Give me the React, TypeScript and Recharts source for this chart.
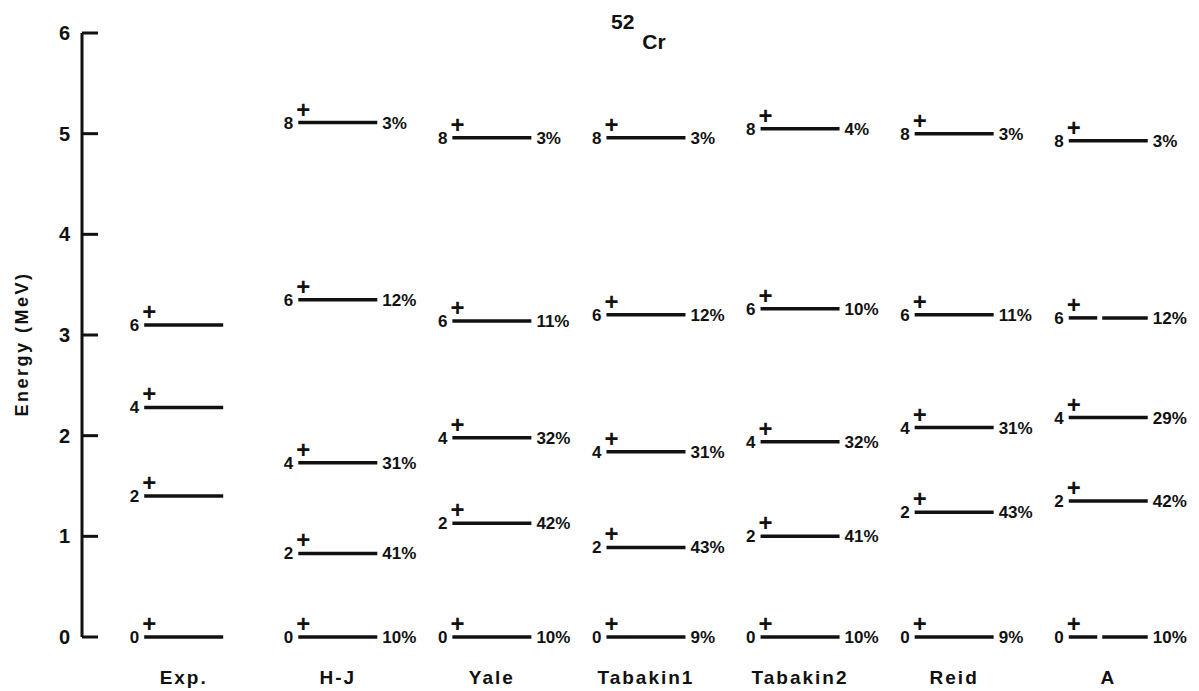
import { ScatterChart, Scatter, XAxis, YAxis, Label } from "recharts";

const columns = ["Exp.", "H-J", "Yale", "Tabakin1", "Tabakin2", "Reid", "A"];
const spins = [0, 2, 4, 6, 8];
const energyTicks = [0, 1, 2, 3, 4, 5, 6];

// level energies (MeV), ordered by spin 0,2,4,6,8
const expEnergy = [0, 1.4, 2.28, 3.1];
const hjEnergy = [0, 0.83, 1.73, 3.35, 5.11];
const yaleEnergy = [0, 1.13, 1.98, 3.14, 4.96];
const tabakin1Energy = [0, 0.89, 1.84, 3.2, 4.96];
const tabakin2Energy = [0, 1.0, 1.94, 3.26, 5.05];
const reidEnergy = [0, 1.24, 2.08, 3.2, 5.0];
const aEnergy = [0, 1.35, 2.18, 3.17, 4.93];

// percentages printed to the right of each level
const hjPct = [10, 41, 31, 12, 3];
const yalePct = [10, 42, 32, 11, 3];
const tabakin1Pct = [9, 43, 31, 12, 3];
const tabakin2Pct = [10, 41, 32, 10, 4];
const reidPct = [9, 43, 31, 11, 3];
const aPct = [10, 42, 29, 12, 3];

const energies = [expEnergy, hjEnergy, yaleEnergy, tabakin1Energy, tabakin2Energy, reidEnergy, aEnergy];
const pcts = [null, hjPct, yalePct, tabakin1Pct, tabakin2Pct, reidPct, aPct];

const levels = energies.flatMap((list, col) =>
  list.map((energy, i) => ({
    col,
    energy,
    spin: spins[i],
    pct: pcts[col] ? pcts[col][i] : null,
  }))
);

const FONT = "'Liberation Sans', Arial, sans-serif";
const HALF = 39.5;

const LevelMark = (props: any) => {
  const { cx, cy, payload } = props;
  if (cx == null || cy == null) return null;
  // the A column draws its 0+ and 6+ lines with a small break
  const broken = payload.col === 6 && (payload.spin === 0 || payload.spin === 6);
  return (
    <g fontFamily={FONT} fontWeight={700} fill="#111">
      {broken ? (
        <>
          <line x1={cx - HALF} x2={cx - 11} y1={cy} y2={cy} stroke="#111" strokeWidth={3.5} />
          <line x1={cx - 6} x2={cx + HALF} y1={cy} y2={cy} stroke="#111" strokeWidth={3.5} />
        </>
      ) : (
        <line x1={cx - HALF} x2={cx + HALF} y1={cy} y2={cy} stroke="#111" strokeWidth={3.5} />
      )}
      <text x={cx - HALF - 5} y={cy + 6} textAnchor="end" fontSize={17}>
        {payload.spin}
      </text>
      <text x={cx - HALF + 5} y={cy - 5} textAnchor="middle" fontSize={24}>
        +
      </text>
      {payload.pct != null && (
        <text x={cx + HALF + 5} y={cy + 6} textAnchor="start" fontSize={17}>
          {payload.pct}%
        </text>
      )}
    </g>
  );
};

const EnergyTick = (props: any) => {
  const { x, y, payload } = props;
  return (
    <g>
      <line x1={x} x2={x + 16} y1={y} y2={y} stroke="#111" strokeWidth={3} />
      <text x={x - 12} y={y + 7} textAnchor="end" fontFamily={FONT} fontWeight={700} fontSize={20} fill="#111">
        {payload.value}
      </text>
    </g>
  );
};

const ColumnTick = (props: any) => {
  const { x, y, payload } = props;
  return (
    <text x={x} y={y} textAnchor="middle" fontFamily={FONT} fontWeight={700} fontSize={19} letterSpacing={2} fill="#111">
      {columns[payload.value]}
    </text>
  );
};

export default function App() {
  return (
    <div style={{ position: "absolute", left: 0, top: 0, width: 1199, height: 691, background: "#fff" }}>
      <div style={{ position: "absolute", left: 611, top: 10, fontFamily: FONT, fontWeight: 700, color: "#111", whiteSpace: "nowrap" }}>
        <span style={{ fontSize: 21 }}>52</span>
        <span style={{ fontSize: 21, position: "relative", top: 20, marginLeft: 8 }}>Cr</span>
      </div>
      <ScatterChart width={1199} height={691} margin={{ top: 33, right: 6, bottom: 0, left: 0 }}>
        <XAxis
          type="number"
          dataKey="col"
          domain={[-0.66, 6.55]}
          ticks={[0, 1, 2, 3, 4, 5, 6]}
          axisLine={false}
          tickLine={false}
          tickSize={0}
          tickMargin={47}
          height={54}
          tick={<ColumnTick />}
          allowDataOverflow
        />
        <YAxis
          type="number"
          dataKey="energy"
          domain={[0, 6]}
          ticks={energyTicks}
          width={82}
          axisLine={{ stroke: "#111", strokeWidth: 3 }}
          tickLine={false}
          tickSize={0}
          tickMargin={0}
          tick={<EnergyTick />}
        >
          <Label
            content={(p: any) => {
              const vb = p.viewBox;
              const cx = vb.x + 22;
              const cy = vb.y + vb.height / 2 + 9;
              return (
                <text
                  x={cx}
                  y={cy}
                  transform={`rotate(-90, ${cx}, ${cy})`}
                  textAnchor="middle"
                  dominantBaseline="central"
                  fontFamily={FONT}
                  fontWeight={700}
                  fontSize={18}
                  letterSpacing={2.5}
                  fill="#111"
                >
                  Energy (MeV)
                </text>
              );
            }}
          />
        </YAxis>
        <Scatter data={levels} shape={<LevelMark />} isAnimationActive={false} />
      </ScatterChart>
    </div>
  );
}
